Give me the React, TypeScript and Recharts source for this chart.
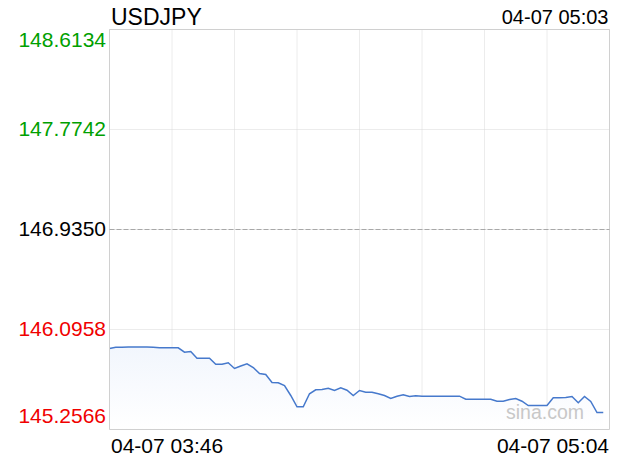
import { AreaChart, Area, XAxis, YAxis, CartesianGrid, ReferenceLine, ReferenceArea } from 'recharts'

const symbol = 'USDJPY'
const lastTime = '04-07 05:03'
const timeLabels = ['04-07 03:46', '04-07 05:04']
const prevClose = 146.935
const yTicks = [145.2566, 146.0958, 146.935, 147.7742, 148.6134]
const xTicks = [0, 10, 20, 30, 40, 50, 60, 70, 80]

const prices = [
  145.9364, 145.9473, 145.9473, 145.9489, 145.9489, 145.9489, 145.9489, 145.9473, 145.9422, 145.9422,
  145.9422, 145.9422, 145.9053, 145.9112, 145.8549, 145.8549, 145.8549, 145.8046, 145.8046, 145.8163,
  145.7685, 145.7895, 145.808, 145.7769, 145.7266, 145.7182, 145.651, 145.6485, 145.6258, 145.5419,
  145.4471, 145.4471, 145.5562, 145.5898, 145.5923, 145.6032, 145.5839, 145.6065, 145.5864, 145.5419,
  145.5839, 145.5696, 145.5696, 145.5562, 145.5419, 145.5168, 145.5361, 145.5478, 145.5335, 145.5394,
  145.5361, 145.5361, 145.5361, 145.5361, 145.5361, 145.5361, 145.5361, 145.5109, 145.5109, 145.5109,
  145.5109, 145.5109, 145.4941, 145.4941, 145.5084, 145.5168, 145.4941, 145.458, 145.458, 145.458,
  145.458, 145.5226, 145.5226, 145.5251, 145.5335, 145.4807, 145.5335, 145.4916, 145.3993, 145.3993,
]

const data = prices.map((p, i) => ({ i, p }))

const FONT = '"Liberation Sans", Arial, sans-serif'

const YTick = (props: any) => {
  const v = props.payload.value
  const color = v > prevClose + 1e-6 ? '#00a000' : v < prevClose - 1e-6 ? '#f00000' : '#000'
  let dy = 6
  if (v === yTicks[yTicks.length - 1]) dy = 17.5
  if (v === yTicks[0]) dy = -6.5
  return (
    <text x={106} y={props.y + dy} textAnchor="end" fill={color} fontSize={21} fontFamily={FONT}>
      {v.toFixed(4)}
    </text>
  )
}

const XTick = (props: any) => {
  const { index, x } = props
  if (index === 0) {
    return (
      <text x={x + 1.5} y={453} textAnchor="start" fill="#000" fontSize={21} fontFamily={FONT}>
        {timeLabels[0]}
      </text>
    )
  }
  if (index === xTicks.length - 1) {
    return (
      <text x={x - 0.5} y={453} textAnchor="end" fill="#000" fontSize={21} fontFamily={FONT}>
        {timeLabels[1]}
      </text>
    )
  }
  return null
}

export default function App() {
  return (
    <div style={{ position: 'relative', width: 620, height: 460, background: '#fff' }}>
      <style>{'body{margin:0}'}</style>
      <AreaChart width={620} height={460} data={data} margin={{ top: 29.5, right: 10.5, left: 0, bottom: 0 }}>
        <defs>
          <linearGradient id="fillBlue" x1="0" y1="0" x2="0" y2="1">
            <stop offset="0%" stopColor="#f2f6fd" />
            <stop offset="100%" stopColor="#ffffff" />
          </linearGradient>
        </defs>
        <CartesianGrid stroke="#d8d8d8" strokeDasharray="1 1" />
        <XAxis
          dataKey="i"
          type="number"
          domain={[0, 80]}
          ticks={xTicks}
          interval={0}
          height={30.5}
          axisLine={false}
          tickLine={false}
          tick={<XTick />}
        />
        <YAxis
          type="number"
          domain={[yTicks[0], yTicks[yTicks.length - 1]]}
          ticks={yTicks}
          interval={0}
          width={109.5}
          axisLine={false}
          tickLine={false}
          tick={<YTick />}
        />
        <ReferenceLine y={prevClose} stroke="#a8a8a8" strokeDasharray="5 2" />
        <Area
          type="linear"
          dataKey="p"
          stroke="#4679cc"
          strokeWidth={1.5}
          fill="url(#fillBlue)"
          fillOpacity={1}
          dot={false}
          activeDot={false}
          isAnimationActive={false}
        />
        <ReferenceArea
          x1={0}
          x2={80}
          y1={yTicks[0]}
          y2={yTicks[yTicks.length - 1]}
          stroke="#d0d0d0"
          fill="none"
          fillOpacity={0}
        />
      </AreaChart>
      <svg width={620} height={460} style={{ position: 'absolute', left: 0, top: 0, pointerEvents: 'none' }}>
        <text x={111} y={25} fontSize={23} fontFamily={FONT} fill="#000">
          {symbol}
        </text>
        <text x={608.5} y={23.5} fontSize={20} fontFamily={FONT} fill="#000" textAnchor="end">
          {lastTime}
        </text>
        <text x={584} y={419} fontSize={19.5} fontFamily={FONT} fill="#c8c8c8" textAnchor="end">
          sina.com
        </text>
      </svg>
    </div>
  )
}
